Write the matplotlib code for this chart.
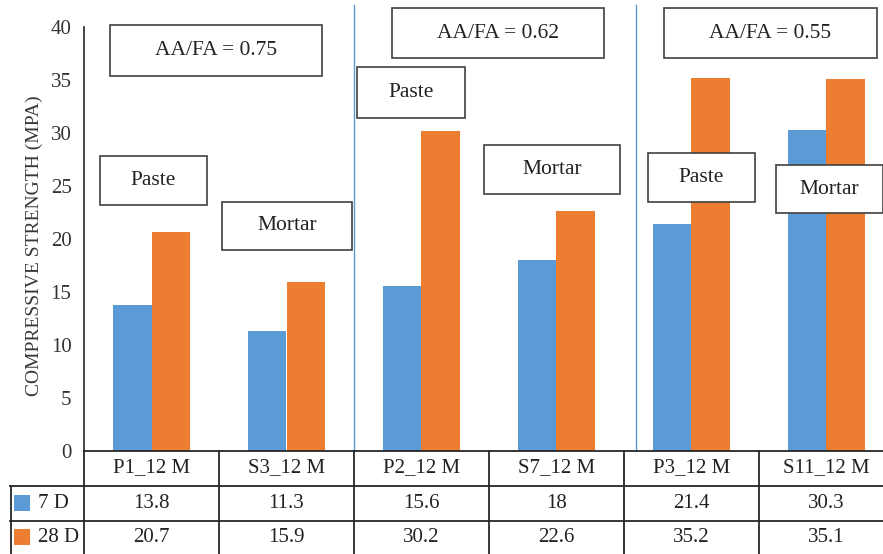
import matplotlib.pyplot as plt
from matplotlib.patches import Rectangle
from matplotlib.lines import Line2D
import numpy as np

plt.rcParams['font.family'] = ['Liberation Serif', 'DejaVu Serif']

categories = ["P1_12 M", "S3_12 M", "P2_12 M", "S7_12 M", "P3_12 M", "S11_12 M"]
series_names = ["7 D", "28 D"]
d7 = [13.8, 11.3, 15.6, 18, 21.4, 30.3]
d28 = [20.7, 15.9, 30.2, 22.6, 35.2, 35.1]
ratio_labels = ["AA/FA = 0.75", "AA/FA = 0.62", "AA/FA = 0.55"]
blue = "#5B9BD5"
orange = "#ED7D31"
line_col = "#262626"
txt_col = "#222222"

W, H = 883, 554
fig = plt.figure(figsize=(W / 100, H / 100), dpi=100)

def fx(px):
    return px / W

def fy(py):
    return 1 - py / H

# plot area in pixels: x 84..894, y 27 (value 40) .. 451 (value 0)
ax = fig.add_axes([fx(84), fy(451), fx(894) - fx(84), fy(27) - fy(451)])
x = np.arange(len(categories))
bw = 0.285
ax.bar(x - bw / 2, d7, bw, color=blue, label=series_names[0])
ax.bar(x + bw / 2, d28, bw, color=orange, label=series_names[1])
ax.set_xlim(-0.5, len(categories) - 0.5)
ax.set_ylim(0, 40)
ax.set_yticks(np.arange(0, 41, 5))
ax.tick_params(axis='y', length=0, labelsize=15, pad=9, colors="#333333")
ax.set_xticks([])
for s in ["top", "right", "bottom"]:
    ax.spines[s].set_visible(False)
ax.spines["left"].set_color(line_col)
ax.spines["left"].set_linewidth(1.2)
ax.set_ylabel("COMPRESSIVE STRENGTH (MPA)", fontsize=14, color="#383838")
ax.yaxis.set_label_coords(-0.051, 0.484)

# group separators
for sx in [1.5, 3.59]:
    ax.plot([sx, sx], [0, 42.1], color=blue, lw=1.0, clip_on=False)

def box(x0, y0, x1, y1, text, size=15.5):
    fig.add_artist(Rectangle((fx(x0), fy(y1)), fx(x1) - fx(x0), fy(y0) - fy(y1),
                             transform=fig.transFigure, facecolor="white",
                             edgecolor="#404040", lw=1.2))
    fig.text(fx((x0 + x1) / 2), fy((y0 + y1) / 2), text, ha="center", va="center",
             fontsize=size, color=txt_col)

box(110, 25, 322, 76, ratio_labels[0])
box(392, 8, 604, 58, ratio_labels[1])
box(664, 8, 877, 58, ratio_labels[2])
box(100, 156, 207, 205, "Paste")
box(222, 202, 352, 250, "Mortar")
box(357, 67, 465, 118, "Paste")
box(484, 145, 620, 194, "Mortar")
box(648, 153, 755, 202, "Paste")
box(776, 165, 883, 213, "Mortar")

# data table below the plot
def hline(y, x0, x1):
    fig.add_artist(Line2D([fx(x0), fx(x1)], [fy(y), fy(y)], transform=fig.transFigure,
                          color=line_col, lw=1.3))

def vline(xp, y0, y1):
    fig.add_artist(Line2D([fx(xp), fx(xp)], [fy(y0), fy(y1)], transform=fig.transFigure,
                          color=line_col, lw=1.3))

col_w = 135
hline(451, 84, 894)
hline(486, 10, 894)
hline(521, 10, 894)
vline(11, 486, 560)
for i in range(len(categories) + 1):
    vline(84 + i * col_w, 451, 560)

row_y = [468, 503, 537]
for i, cat in enumerate(categories):
    cx = 84 + col_w * (i + 0.5)
    fig.text(fx(cx), fy(row_y[0]), cat, ha="center", va="center", fontsize=15, color=txt_col)
    fig.text(fx(cx), fy(row_y[1]), f"{d7[i]:g}", ha="center", va="center", fontsize=15, color=txt_col)
    fig.text(fx(cx), fy(row_y[2]), f"{d28[i]:g}", ha="center", va="center", fontsize=15, color=txt_col)

for j, (name, c) in enumerate(zip(series_names, [blue, orange])):
    yc = row_y[j + 1]
    fig.add_artist(Rectangle((fx(14), fy(yc + 8)), fx(16), fy(0) - fy(16),
                             transform=fig.transFigure, facecolor=c, edgecolor="none"))
    fig.text(fx(38), fy(yc), name, ha="left", va="center", fontsize=15, color=txt_col)

fig.savefig("out.png", dpi=100)
